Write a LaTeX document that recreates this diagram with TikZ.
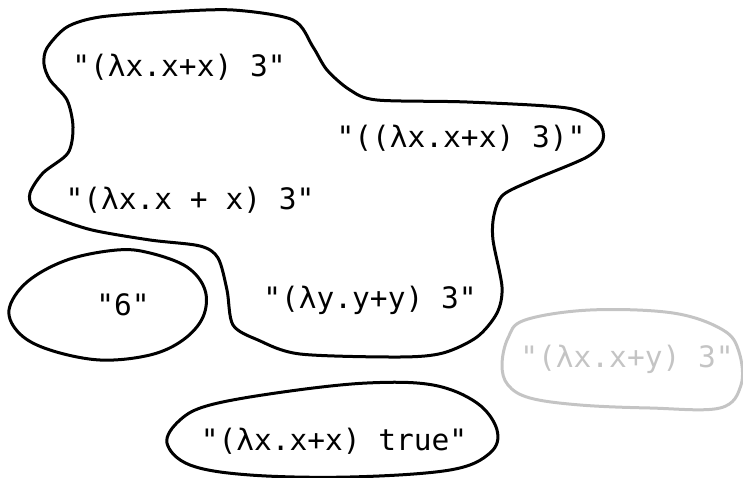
\documentclass[tikz,border=0pt]{standalone}
\usepackage{fontspec}
\newfontfamily\dmono{DejaVu Sans Mono}
\definecolor{ghost}{HTML}{C4C4C4}
\begin{document}
\begin{tikzpicture}[x=1pt,y=-1pt,
  blob/.style={draw=black,line width=3pt,line join=round},
  greyblob/.style={draw=ghost,line width=3pt,line join=round},
  term/.style={anchor=base,inner sep=0pt,font=\dmono\fontsize{29.5}{34}\selectfont},
  greyterm/.style={term,text=ghost}]
\useasboundingbox (0,0) rectangle (743,478);
% big blob
\draw[blob] plot[smooth cycle,tension=0.5] coordinates{
 (47,48) (67,27) (100,17) (167,12) (233,10) (293,20) (313,47) (327,70) (350,90) (377,100)
 (467,102) (567,108) (598,122) (603,140) (587,157) (533,180) (503,195) (494,215) (493,240)
 (502,287) (497,313) (477,337) (443,353) (400,357) (300,354) (258,340) (233,325)
 (227,290) (218,258) (200,246) (150,240) (92,230) (53,217) (33,207) (30,193) (43,173)
 (68,153) (73,127) (67,100) (50,80) (44,64)};
% blob 6
\draw[blob] plot[smooth cycle,tension=0.6] coordinates{
 (9,310) (20,334) (50,350) (100,360) (150,355) (183,340) (203,317) (205,290) (187,267)
 (150,253) (117,250) (67,260) (27,282)};
% true blob
\draw[blob] plot[smooth cycle,tension=0.6] coordinates{
 (167,443) (180,420) (210,405) (283,392) (367,383) (433,385) (477,403) (497,430)
 (490,453) (450,470) (350,477) (250,475) (190,465)};
% grey blob
\draw[greyblob] plot[smooth cycle,tension=0.6] coordinates{
 (502,365) (508,338) (525,320) (590,310) (673,313) (723,330) (739,352) (741,385)
 (720,408) (650,408) (580,405) (530,398) (508,385)};
\node[term] (t1) at (179,77) {"(λx.x+x) 3"};
\node[term] (t2) at (461,148) {"((λx.x+x) 3)"};
\node[term] (t3) at (190,210) {"(λx.x + x) 3"};
\node[term] (t4) at (123,315) {"6"};
\node[term] (t5) at (370,308) {"(λy.y+y) 3"};
\node[greyterm] (t6) at (627,367) {"(λx.x+y) 3"};
\node[term] (t7) at (334,450) {"(λx.x+x) true"};
\end{tikzpicture}
\end{document}
